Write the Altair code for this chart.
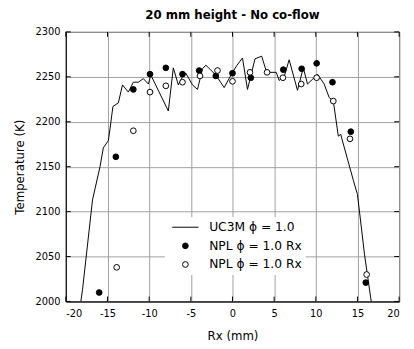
import altair as alt
import pandas as pd

# UC3M profile (line)
line_x = [-18.2, -18.0, -16.8, -15.9, -15.5, -14.9, -14.7, -14.35, -13.7, -13.2, -12.5, -11.9,
          -11.3, -10.7, -10.1, -9.8, -7.7, -7.1, -6.5, -6.0, -5.6, -4.8, -4.2, -3.6, -3.2, -2.0,
          -1.0, 0.0, 0.55, 1.2, 1.8, 2.7, 3.5, 4.1, 5.25, 5.6, 6.2, 6.8, 7.8, 8.5, 9.0, 9.8,
          10.2, 11.0, 11.6, 12.1, 12.7, 13.0, 13.1, 14.5, 15.0, 15.85, 16.65]
line_T = [2000, 2013, 2113, 2150, 2171, 2179, 2192, 2217, 2221, 2241, 2233, 2244,
          2244, 2248, 2242, 2252, 2212, 2260, 2241, 2250, 2254, 2241, 2236, 2259, 2263, 2252,
          2238, 2255, 2263, 2271, 2236, 2270, 2273, 2255, 2255, 2246, 2250, 2269, 2235, 2260, 2242, 2249,
          2253, 2242, 2227, 2223, 2184, 2186, 2182, 2135, 2119, 2052, 2000]

# NPL filled
npl1_x = [-16, -14, -11.9, -9.9, -8, -6, -4, -2, 0, 2.2, 6.1, 8.3, 10.1, 12, 14.2, 16]
npl1_T = [2010, 2161, 2236, 2253, 2260, 2253, 2257, 2251, 2254, 2249, 2258, 2259, 2265, 2244, 2189, 2021]

# NPL open
npl2_x = [-13.9, -11.9, -9.9, -8, -6, -3.9, -1.8, 0, 2.1, 4.15, 6.05, 8.25, 10.1, 12.1, 14.1, 16.1]
npl2_T = [2038, 2190, 2233, 2240, 2244, 2251, 2257, 2245, 2255, 2255, 2249, 2242, 2249, 2223, 2181, 2030]

series_keys = ["a", "b", "c"]
series_labels = ["UC3M \u03d5 = 1.0", "NPL \u03d5 = 1.0 Rx", "NPL \u03d5 = 1.0 Rx"]

x_ticks = [-20, -15, -10, -5, 0, 5, 10, 15, 20]
y_ticks = [2000, 2050, 2100, 2150, 2200, 2250, 2300]

W, H = 340, 275
FONT = "DejaVu Sans"

df_line = pd.DataFrame({"Rx": line_x, "T": line_T})
df_pts = pd.concat([
    pd.DataFrame({"Rx": npl1_x, "T": npl1_T, "s": series_keys[1]}),
    pd.DataFrame({"Rx": npl2_x, "T": npl2_T, "s": series_keys[2]}),
])
df_xt = pd.DataFrame({"Rx": x_ticks})
df_yt = pd.DataFrame({"T": y_ticks})

xscale = alt.Scale(domain=[-20, 20], nice=False, zero=False)
yscale = alt.Scale(domain=[2000, 2300], nice=False, zero=False)

xaxis = alt.Axis(values=x_ticks, title="Rx (mm)", labelExpr="datum.value + ''",
                 labelPadding=7, titlePadding=13)
yaxis = alt.Axis(values=y_ticks, title="Temperature (K)", labelExpr="datum.value + ''",
                 labelPadding=6, titlePadding=9)

X = alt.X("Rx:Q", scale=xscale, axis=xaxis)
Y = alt.Y("T:Q", scale=yscale, axis=yaxis)

label_expr = "datum.label == 'a' ? '%s' : '%s'" % (series_labels[0], series_labels[1])
legend = alt.Legend(title=None, orient="none", legendX=101, legendY=189, fillColor="white",
                    padding=4, symbolSize=34, symbolStrokeWidth=1, symbolOffset=10.7,
                    labelOffset=18, labelFont=FONT, labelFontSize=12.5, labelColor="black",
                    rowPadding=6, labelExpr=label_expr, symbolOpacity=1)

line = alt.Chart(df_line).mark_line(color="black", strokeWidth=1, clip=True).encode(
    x=X, y=Y, order="Rx:Q")

pts = alt.Chart(df_pts).mark_point(size=34, strokeWidth=1, opacity=1, clip=True).encode(
    x=X, y=Y,
    shape=alt.Shape("s:N", scale=alt.Scale(domain=series_keys,
                                           range=["M-4.6,0L4.6,0", "circle", "circle"]), legend=legend),
    fill=alt.Fill("s:N", scale=alt.Scale(domain=series_keys, range=["white", "black", "white"]), legend=legend),
    stroke=alt.Stroke("s:N", scale=alt.Scale(domain=series_keys, range=["black", "black", "black"]), legend=legend),
)

tb = alt.Chart(df_xt).mark_rule(color="black", strokeWidth=1).encode(
    x=X, y=alt.value(H), y2=alt.value(H - 5))
tt = alt.Chart(df_xt).mark_rule(color="black", strokeWidth=1).encode(
    x=X, y=alt.value(0), y2=alt.value(5))
tl = alt.Chart(df_yt).mark_rule(color="black", strokeWidth=1).encode(
    y=Y, x=alt.value(0), x2=alt.value(5))
tr = alt.Chart(df_yt).mark_rule(color="black", strokeWidth=1).encode(
    y=Y, x=alt.value(W), x2=alt.value(W - 5))

chart = alt.layer(line, tb, tt, tl, tr, pts).properties(
    width=W, height=H,
    title=alt.TitleParams("20 mm height - No co-flow", font=FONT, fontSize=12, fontWeight="bold",
                          color="black", anchor="middle", offset=5),
    autosize=alt.AutoSizeParams(type="none"),
    padding={"left": 59, "top": 21, "right": 7, "bottom": 40},
).configure_view(stroke="black", strokeWidth=1).configure_axis(
    domainColor="black", domainWidth=1, ticks=False, grid=True, gridColor="#a0a0a0", gridWidth=1,
    labelFont=FONT, labelFontSize=10, labelColor="black",
    titleFont=FONT, titleFontSize=12, titleFontWeight="normal", titleColor="black",
)

chart.save("out.html", embed_options={"renderer": "svg", "actions": False})
